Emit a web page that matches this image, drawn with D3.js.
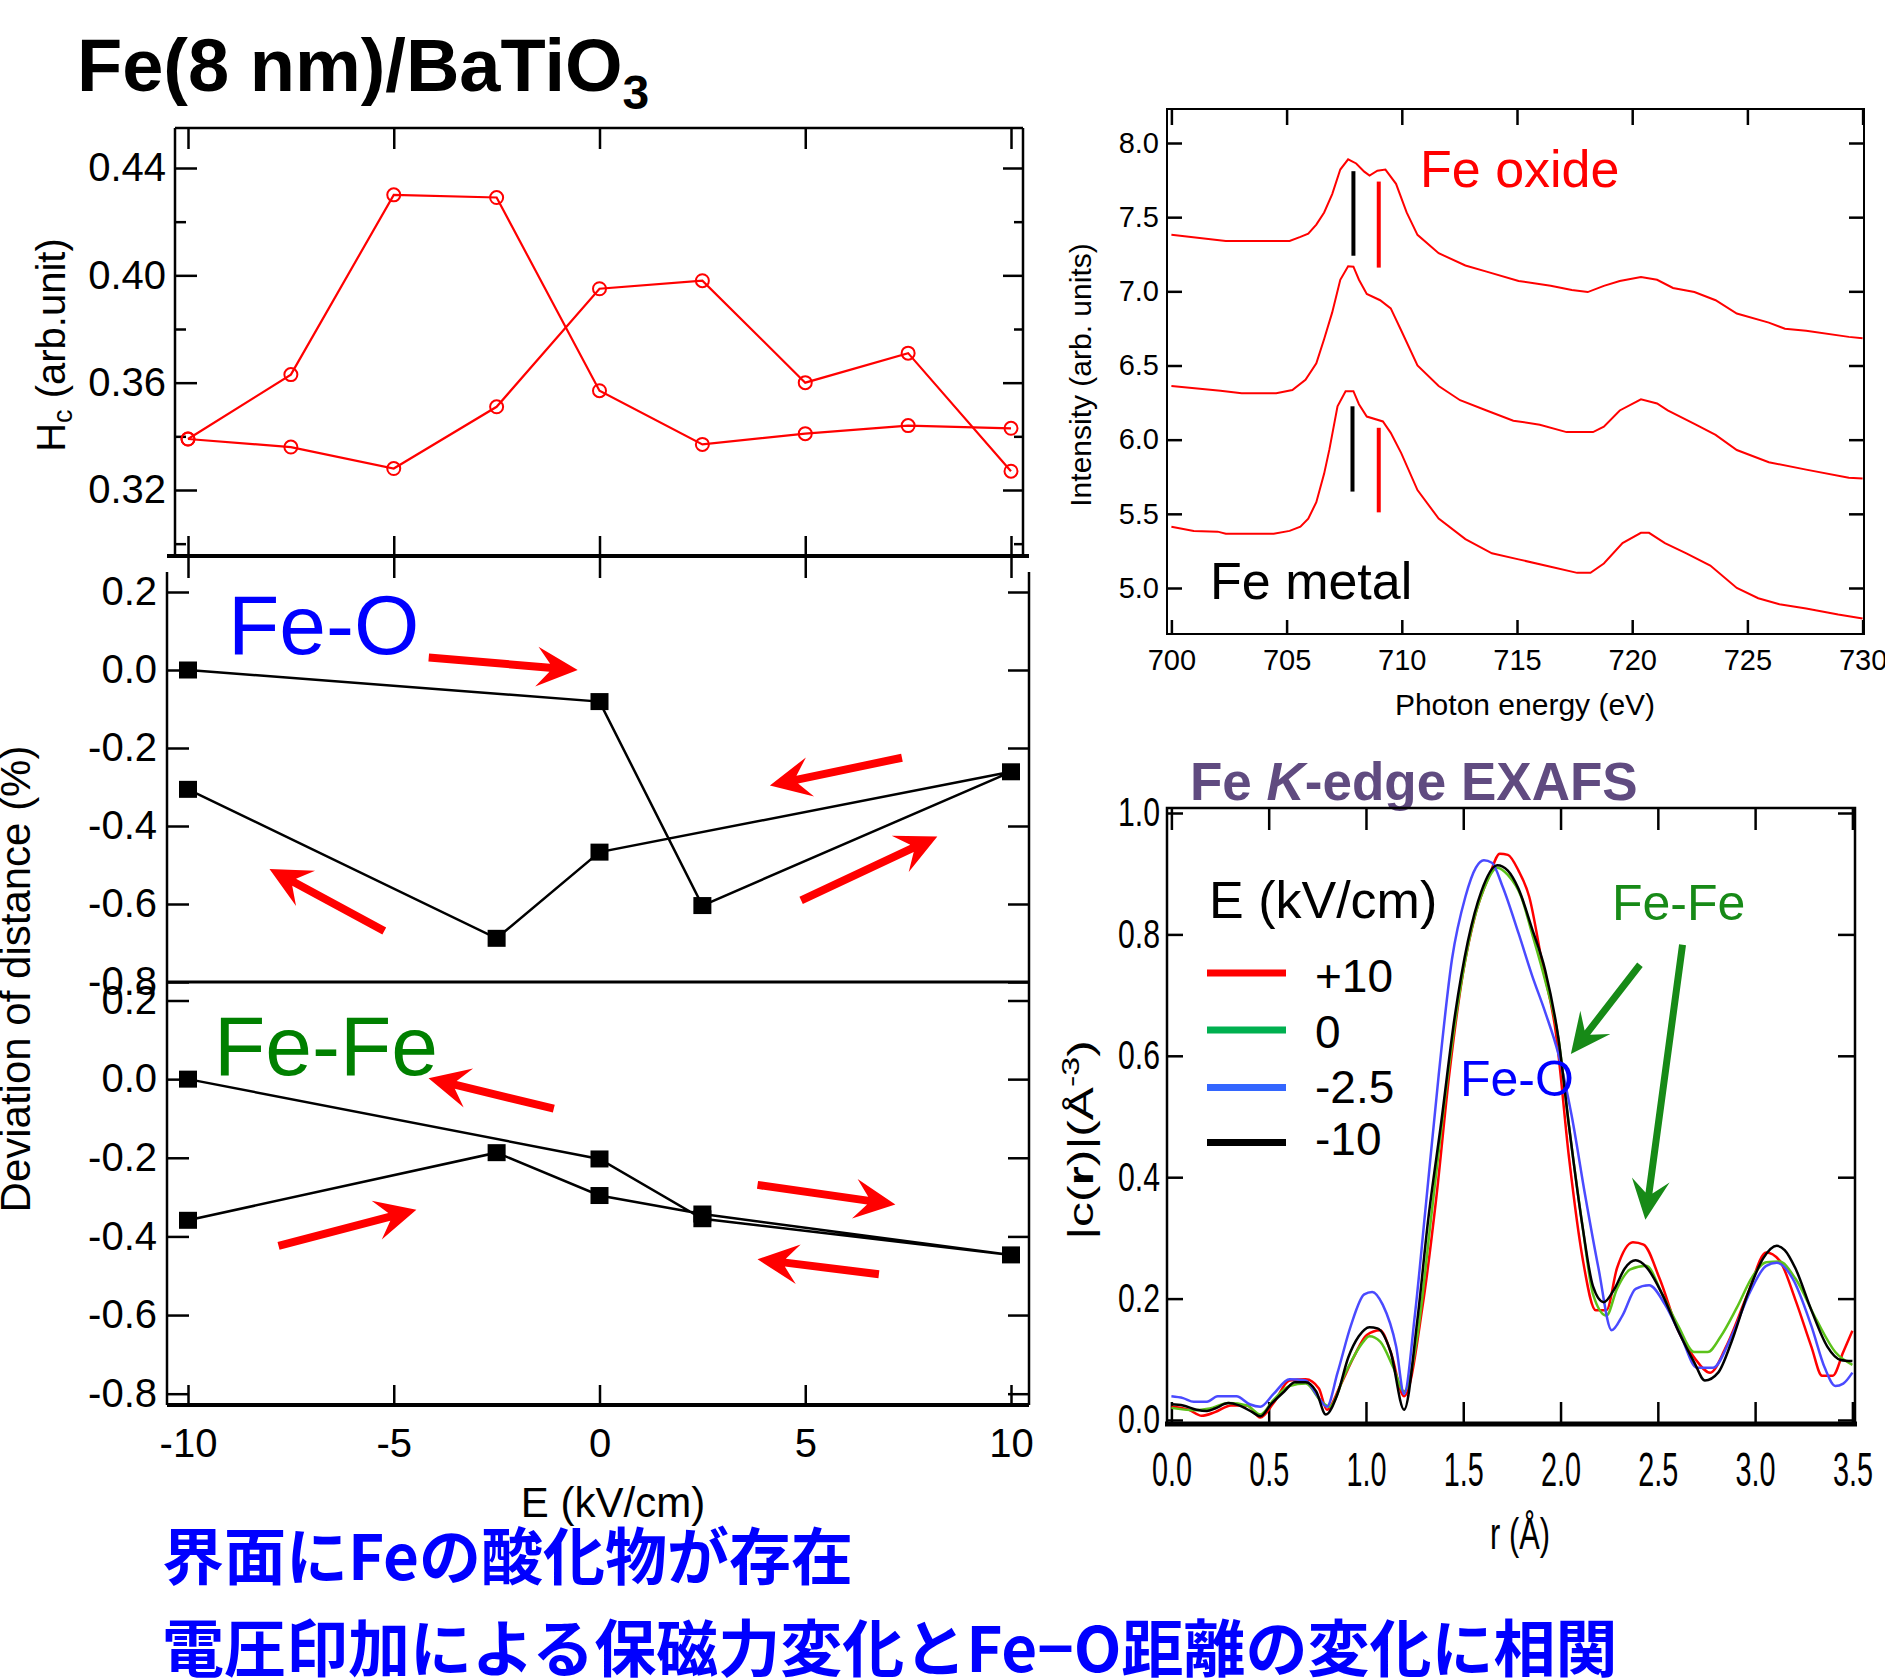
<!DOCTYPE html>
<html>
<head>
<meta charset="utf-8">
<script src="https://cdn.jsdelivr.net/npm/d3@7"></script>
<style>
  body { margin: 0; background: #fff; }
  svg { display: block; }
</style>
</head>
<body>
<div id="main-chart"></div>
<script>
const width = 1885, height = 1680;
const FONT = "'Liberation Sans', Arial, Helvetica, sans-serif";

// ---- data ----
// coercive field vs E (two branches of the loop)
const eField = [-10, -7.5, -5, -2.5, 0, 2.5, 5, 7.5, 10];
const hcBranchA = [0.339, 0.363, 0.430, 0.429, 0.357, 0.337, 0.341, 0.344, 0.343];
const hcBranchB = [0.339, 0.336, 0.328, 0.351, 0.395, 0.398, 0.360, 0.371, 0.327];

// deviation of bond distance (%), in loop order
const feOE = [-10, 0, 2.5, 10, 0, -2.5, -10];
const feODev = [0.0, -0.081, -0.604, -0.261, -0.467, -0.688, -0.306];
const feFeE = [-10, 0, 2.5, 10, 2.5, 0, -2.5, -10];
const feFeDev = [0.0, -0.203, -0.355, -0.447, -0.343, -0.296, -0.187, -0.359];

// red arrows [E tail, dev tail, E tip, dev tip]
const feOArrows = [[-4.15, 0.032, -0.53, 0.0], [7.35, -0.225, 4.14, -0.296],
                   [-5.23, -0.669, -8.02, -0.51], [4.90, -0.591, 8.21, -0.427]];
const feFeArrows = [[-1.11, -0.075, -4.155, 0.002], [-7.80, -0.424, -4.45, -0.332],
                    [3.84, -0.269, 7.19, -0.319], [6.79, -0.496, 3.84, -0.458]];

const devTicks = [-0.8, -0.6, -0.4, -0.2, 0, 0.2];
const eTicks = [-10, -5, 0, 5, 10];

// XAS spectra [photon energy, intensity]
const xasOxide = [[700,7.381],[702.36,7.339],[705.13,7.339],[705.6,7.367],[705.94,7.389],[706.29,7.45],
  [706.63,7.532],[706.98,7.656],[707.33,7.821],[707.67,7.89],[708.02,7.862],[708.37,7.807],[708.6,7.78],
  [708.94,7.813],[709.29,7.821],[709.75,7.725],[710.21,7.532],[710.68,7.381],[711.6,7.257],[712.76,7.174],
  [713.68,7.133],[715.07,7.07],[716.46,7.037],[717.38,7.009],[718.07,6.995],[718.77,7.037],[719.46,7.07],
  [720.38,7.097],[721.08,7.078],[721.77,7.023],[722.7,6.995],[723.62,6.94],[724.54,6.85],[725.93,6.789],
  [726.63,6.748],[727.55,6.734],[729.4,6.693],[730,6.684]];
const xasMiddle = [[700,6.362],[702.13,6.329],[703.05,6.313],[704.55,6.313],[705.25,6.335],[705.82,6.404],
  [706.29,6.514],[706.63,6.679],[706.98,6.858],[707.33,7.078],[707.67,7.169],[707.9,7.166],[708.14,7.078],
  [708.48,6.982],[709.06,6.94],[709.52,6.885],[709.98,6.734],[710.68,6.5],[711.6,6.362],[712.53,6.266],
  [713.68,6.197],[714.84,6.128],[715.99,6.101],[717.15,6.051],[718.3,6.051],[718.77,6.087],[719.46,6.197],
  [720.38,6.272],[721.08,6.244],[721.54,6.197],[722.7,6.106],[723.62,6.032],[724.54,5.93],[725.93,5.848],
  [727.55,5.798],[729.4,5.743],[730,5.738]];
const xasMetal = [[700,5.413],[700.97,5.385],[702.01,5.38],[702.36,5.366],[704.44,5.366],[705.13,5.385],
  [705.6,5.413],[705.94,5.468],[706.29,5.578],[706.63,5.771],[706.86,5.936],[707.21,6.225],[707.56,6.327],
  [707.9,6.327],[708.14,6.239],[708.48,6.156],[709.18,6.123],[709.52,6.046],[709.98,5.908],[710.68,5.66],
  [711.6,5.468],[712.76,5.33],[713.91,5.234],[715.07,5.193],[716.46,5.143],[717.61,5.102],[718.19,5.102],
  [718.77,5.165],[719.58,5.303],[720.38,5.372],[720.73,5.372],[721.42,5.303],[722.35,5.234],[723.39,5.151],
  [724.54,5.0],[725.47,4.931],[726.39,4.89],[727.55,4.862],[728.94,4.821],[730,4.794]];
// vertical peak markers [energy, from, to, colour]
const xasMarks = [[707.9, 7.24, 7.81, "#000"], [709.0, 7.16, 7.74, "#ff0000"],
                  [707.86, 5.65, 6.225, "#000"], [709.0, 5.51, 6.08, "#ff0000"]];

// EXAFS |chi(r)| [r, value]
const exafsP10 = [[0,0.022],[0.088,0.017],[0.156,0.007],[0.224,0.013],[0.306,0.024],[0.389,0.024],[0.457,0.004],
  [0.525,0.028],[0.607,0.065],[0.69,0.067],[0.758,0.052],[0.799,0.017],[0.867,0.056],[0.936,0.103],[1.004,0.14],
  [1.073,0.148],[1.127,0.112],[1.196,0.039],[1.292,0.19],[1.36,0.362],[1.428,0.569],[1.497,0.733],[1.565,0.836],
  [1.634,0.897],[1.688,0.933],[1.729,0.931],[1.784,0.905],[1.839,0.862],[1.907,0.75],[1.976,0.638],[2.044,0.431],
  [2.113,0.267],[2.181,0.181],[2.236,0.181],[2.29,0.25],[2.372,0.293],[2.427,0.289],[2.509,0.233],[2.605,0.147],
  [2.687,0.103],[2.769,0.078],[2.851,0.121],[2.961,0.207],[3.057,0.276],[3.125,0.263],[3.207,0.198],[3.289,0.121],
  [3.344,0.073],[3.399,0.073],[3.453,0.112],[3.5,0.147]];
const exafs0 = [[0,0.02],[0.115,0.016],[0.197,0.019],[0.293,0.028],[0.389,0.024],[0.457,0.009],[0.525,0.033],
  [0.607,0.056],[0.69,0.06],[0.772,0.03],[0.813,0.022],[0.895,0.078],[0.977,0.125],[1.018,0.138],[1.073,0.129],
  [1.141,0.086],[1.196,0.047],[1.264,0.138],[1.333,0.328],[1.401,0.517],[1.47,0.681],[1.538,0.802],[1.606,0.875],
  [1.675,0.91],[1.729,0.898],[1.798,0.862],[1.853,0.802],[1.921,0.724],[1.989,0.629],[2.044,0.483],[2.113,0.319],
  [2.167,0.207],[2.236,0.172],[2.29,0.216],[2.359,0.248],[2.441,0.254],[2.523,0.207],[2.605,0.155],[2.687,0.112],
  [2.756,0.112],[2.824,0.138],[2.906,0.185],[2.988,0.237],[3.057,0.26],[3.125,0.261],[3.207,0.233],[3.317,0.164],
  [3.412,0.112],[3.5,0.091]];
const exafsM2p5 = [[0,0.039],[0.06,0.036],[0.115,0.03],[0.183,0.03],[0.238,0.039],[0.334,0.039],[0.402,0.026],
  [0.457,0.022],[0.525,0.043],[0.607,0.067],[0.69,0.065],[0.744,0.043],[0.799,0.022],[0.854,0.078],[0.922,0.155],
  [0.991,0.207],[1.032,0.211],[1.086,0.19],[1.155,0.121],[1.196,0.043],[1.251,0.172],[1.305,0.345],[1.374,0.569],
  [1.442,0.759],[1.511,0.862],[1.565,0.91],[1.606,0.922],[1.647,0.918],[1.702,0.879],[1.784,0.802],[1.853,0.733],
  [1.921,0.672],[1.989,0.603],[2.058,0.5],[2.126,0.371],[2.195,0.25],[2.263,0.148],[2.318,0.172],[2.386,0.216],
  [2.455,0.222],[2.537,0.19],[2.619,0.138],[2.701,0.086],[2.783,0.086],[2.879,0.138],[2.974,0.211],[3.057,0.254],
  [3.111,0.259],[3.193,0.233],[3.289,0.155],[3.358,0.086],[3.412,0.056],[3.453,0.06],[3.5,0.078]];
const exafsM10 = [[0,0.026],[0.06,0.024],[0.129,0.017],[0.183,0.015],[0.224,0.019],[0.293,0.028],[0.348,0.024],
  [0.416,0.013],[0.457,0.006],[0.512,0.026],[0.58,0.047],[0.635,0.062],[0.69,0.062],[0.744,0.047],[0.794,0.009],
  [0.854,0.043],[0.909,0.103],[0.963,0.138],[1.018,0.153],[1.059,0.151],[1.127,0.112],[1.196,0.017],[1.264,0.164],
  [1.319,0.328],[1.387,0.491],[1.456,0.664],[1.524,0.789],[1.593,0.871],[1.675,0.914],[1.729,0.905],[1.784,0.875],
  [1.853,0.81],[1.921,0.741],[1.989,0.629],[2.044,0.483],[2.113,0.319],[2.167,0.22],[2.222,0.194],[2.277,0.216],
  [2.331,0.25],[2.386,0.263],[2.441,0.252],[2.523,0.207],[2.605,0.147],[2.687,0.095],[2.742,0.065],[2.81,0.078],
  [2.879,0.129],[2.961,0.207],[3.043,0.267],[3.111,0.287],[3.152,0.28],[3.207,0.25],[3.289,0.181],[3.371,0.121],
  [3.44,0.099],[3.5,0.097]];
const exafsLabels = ["+10", "0", "-2.5", "-10"];
const exafsSeries = [exafsP10, exafs0, exafsM2p5, exafsM10];
const exafsColors = ["#ff0000", "#5cc21a", "#4a4aff", "#000000"];
const legendColors = ["#ff0000", "#00b050", "#3366ff", "#000000"];
// green arrows [r tail, val tail, r tip, val tip]
const exafsArrows = [[2.408, 0.750, 2.053, 0.603], [2.627, 0.783, 2.436, 0.330]];

// ---- svg ----
const svg = d3.select("#main-chart").append("svg")
    .attr("width", width).attr("height", height)
    .style("font-family", FONT);

const hyphen = f => d => f(d).replace("\u2212", "-");

function styleAxis(g, size) {
    g.attr("font-family", FONT).attr("font-size", size);
    g.select(".domain").remove();
    g.selectAll(".tick line").attr("stroke", "#000").attr("stroke-width", 2.5);
    g.selectAll(".tick text").attr("fill", "#000");
    return g;
}

function hline(x0, x1, y, w) {
    svg.append("line").attr("x1", x0).attr("x2", x1).attr("y1", y).attr("y2", y)
        .attr("stroke", "#000").attr("stroke-width", w);
}
function vline(x, y0, y1, w) {
    svg.append("line").attr("x1", x).attr("x2", x).attr("y1", y0).attr("y2", y1)
        .attr("stroke", "#000").attr("stroke-width", w);
}

// notched block arrow from (x0,y0) to tip (x1,y1)
function arrow(x0, y0, x1, y1, color, w, L, H, N) {
    const dx = x1 - x0, dy = y1 - y0, len = Math.hypot(dx, dy);
    const ux = dx / len, uy = dy / len, nx = -uy, ny = ux;
    const p = (a, b) => [x1 - a * ux + b * nx, y1 - a * uy + b * ny];
    const pts = [[x1, y1], p(L, H), p(N, w / 2), [x0 + nx * w / 2, y0 + ny * w / 2],
                 [x0 - nx * w / 2, y0 - ny * w / 2], p(N, -w / 2), p(L, -H)];
    svg.append("polygon").attr("points", pts.map(q => q.join(",")).join(" ")).attr("fill", color);
}

// ---- title ----
const title = svg.append("text").attr("x", 77).attr("y", 91)
    .attr("font-size", 74).attr("font-weight", "bold");
title.append("tspan").text("Fe(8 nm)/BaTiO");
title.append("tspan").attr("font-size", 48).attr("dy", 18).text("3");

// ---- left column: shared E scale ----
const xE = d3.scaleLinear().domain([-10, 10]).range([188, 1011]);

// Hc panel
const yHc = d3.scaleLinear().domain([0.32, 0.44]).range([490, 168]);
hline(175, 1023, 128, 2.5);
vline(175, 128, 556, 2.5);
vline(1023, 128, 556, 2.5);
styleAxis(svg.append("g").attr("transform", "translate(175,0)")
    .call(d3.axisLeft(yHc).tickValues([0.32, 0.36, 0.40, 0.44]).tickFormat(d3.format(".2f"))
        .tickSizeInner(-22).tickSizeOuter(0).tickPadding(9)), 40);
styleAxis(svg.append("g").attr("transform", "translate(175,0)")
    .call(d3.axisLeft(yHc).tickValues([0.30, 0.34, 0.38, 0.42]).tickFormat("")
        .tickSizeInner(-11).tickSizeOuter(0)), 10);
styleAxis(svg.append("g").attr("transform", "translate(1023,0)")
    .call(d3.axisRight(yHc).tickValues([0.32, 0.36, 0.40, 0.44]).tickFormat("")
        .tickSizeInner(-20).tickSizeOuter(0)), 10);
styleAxis(svg.append("g").attr("transform", "translate(1023,0)")
    .call(d3.axisRight(yHc).tickValues([0.30, 0.34, 0.38, 0.42]).tickFormat("")
        .tickSizeInner(-9).tickSizeOuter(0)), 10);
styleAxis(svg.append("g").attr("transform", "translate(0,128)")
    .call(d3.axisTop(xE).tickValues(eTicks).tickFormat("").tickSizeInner(-21).tickSizeOuter(0)), 10);
styleAxis(svg.append("g").attr("transform", "translate(0,556)")
    .call(d3.axisBottom(xE).tickValues(eTicks).tickFormat("").tickSizeInner(-20).tickSizeOuter(0)), 10);
styleAxis(svg.append("g").attr("transform", "translate(0,556)")
    .call(d3.axisBottom(xE).tickValues(eTicks).tickFormat("").tickSizeInner(22).tickSizeOuter(0)), 10);
hline(167, 1029, 556, 4);

const hcLine = d3.line().x((d, i) => xE(eField[i])).y(d => yHc(d));
[hcBranchA, hcBranchB].forEach(br => {
    svg.append("path").attr("d", hcLine(br)).attr("fill", "none")
        .attr("stroke", "#ff0000").attr("stroke-width", 2.2);
    svg.append("g").selectAll("circle").data(br).join("circle")
        .attr("cx", (d, i) => xE(eField[i])).attr("cy", d => yHc(d)).attr("r", 6.5)
        .attr("fill", "none").attr("stroke", "#ff0000").attr("stroke-width", 2);
});

const hcLabel = svg.append("text").attr("transform", "translate(65,345) rotate(-90)")
    .attr("text-anchor", "middle").attr("font-size", 40);
hcLabel.append("tspan").text("H");
hcLabel.append("tspan").attr("font-size", 27).attr("dy", 7).text("c");
hcLabel.append("tspan").attr("dy", -7).text(" (arb.unit)");

// deviation panels
function devPanel(top, bottom, yRange, E, dev, arrows, label, labelColor, labelX, labelY) {
    const y = d3.scaleLinear().domain([-0.8, 0.2]).range(yRange);
    vline(167, top, bottom, 2.5);
    vline(1029, top, bottom, 2.5);
    styleAxis(svg.append("g").attr("transform", "translate(167,0)")
        .call(d3.axisLeft(y).tickValues(devTicks).tickFormat(hyphen(d3.format(".1f")))
            .tickSizeInner(-22).tickSizeOuter(0).tickPadding(10)), 40);
    styleAxis(svg.append("g").attr("transform", "translate(1029,0)")
        .call(d3.axisRight(y).tickValues(devTicks).tickFormat("")
            .tickSizeInner(-21).tickSizeOuter(0)), 10);
    svg.append("text").attr("x", labelX).attr("y", labelY).attr("font-size", 84)
        .attr("fill", labelColor).text(label);
    svg.append("path")
        .attr("d", d3.line().x((d, i) => xE(E[i])).y(d => y(d))(dev))
        .attr("fill", "none").attr("stroke", "#000").attr("stroke-width", 2.5);
    svg.append("g").selectAll("rect").data(dev).join("rect")
        .attr("x", (d, i) => xE(E[i]) - 9).attr("y", d => y(d) - 8.5)
        .attr("width", 18).attr("height", 17).attr("fill", "#000");
    arrows.forEach(a => arrow(xE(a[0]), y(a[1]), xE(a[2]), y(a[3]), "#ff0000", 8, 41, 20, 28));
    return y;
}
devPanel(572, 982, [982, 592], feOE, feODev, feOArrows, "Fe-O", "#0000ff", 228, 654);
hline(167, 1029, 982, 3);
devPanel(982, 1405, [1393.7, 1000.5], feFeE, feFeDev, feFeArrows, "Fe-Fe", "#008000", 214, 1075);
styleAxis(svg.append("g").attr("transform", "translate(0,1405)")
    .call(d3.axisBottom(xE).tickValues(eTicks).tickFormat(hyphen(d3.format("d")))
        .tickSizeInner(-20).tickSizeOuter(0).tickPadding(24)), 40);
hline(167, 1029, 1405, 4);

svg.append("text").attr("x", 613).attr("y", 1517).attr("text-anchor", "middle")
    .attr("font-size", 42).text("E (kV/cm)");
svg.append("text").attr("transform", "translate(30,979) rotate(-90)")
    .attr("text-anchor", "middle").attr("font-size", 42).text("Deviation of distance (%)");

// ---- XAS panel ----
const xX = d3.scaleLinear().domain([700, 730]).range([1171.4, 1862.6]);
const yX = d3.scaleLinear().domain([5.0, 8.0]).range([588, 143]);
svg.append("rect").attr("x", 1167).attr("y", 109).attr("width", 697).attr("height", 525)
    .attr("fill", "none").attr("stroke", "#000").attr("stroke-width", 2);
const xasYTicks = [5.0, 5.5, 6.0, 6.5, 7.0, 7.5, 8.0];
const xasXTicks = [700, 705, 710, 715, 720, 725, 730];
styleAxis(svg.append("g").attr("transform", "translate(1167,0)")
    .call(d3.axisLeft(yX).tickValues(xasYTicks).tickFormat(d3.format(".1f"))
        .tickSizeInner(-15).tickSizeOuter(0).tickPadding(8)), 29);
styleAxis(svg.append("g").attr("transform", "translate(1864,0)")
    .call(d3.axisRight(yX).tickValues(xasYTicks).tickFormat("").tickSizeInner(-15).tickSizeOuter(0)), 10);
styleAxis(svg.append("g").attr("transform", "translate(0,109)")
    .call(d3.axisTop(xX).tickValues(xasXTicks).tickFormat("").tickSizeInner(-16).tickSizeOuter(0)), 10);
styleAxis(svg.append("g").attr("transform", "translate(0,634)")
    .call(d3.axisBottom(xX).tickValues(xasXTicks).tickFormat(d3.format("d"))
        .tickSizeInner(-14).tickSizeOuter(0).tickPadding(15)), 29);

const xasLine = d3.line().x(d => xX(d[0])).y(d => yX(d[1]));
[xasOxide, xasMiddle, xasMetal].forEach(s => {
    svg.append("path").attr("d", xasLine(s)).attr("fill", "none")
        .attr("stroke", "#ff0000").attr("stroke-width", 2);
});
xasMarks.forEach(m => {
    svg.append("line").attr("x1", xX(m[0])).attr("x2", xX(m[0]))
        .attr("y1", yX(m[1])).attr("y2", yX(m[2]))
        .attr("stroke", m[3]).attr("stroke-width", 4);
});
svg.append("text").attr("x", 1420).attr("y", 187).attr("font-size", 52)
    .attr("fill", "#ff0000").text("Fe oxide");
svg.append("text").attr("x", 1210).attr("y", 599).attr("font-size", 52).text("Fe metal");
svg.append("text").attr("x", 1525).attr("y", 715).attr("text-anchor", "middle")
    .attr("font-size", 30).text("Photon energy (eV)");
svg.append("text").attr("transform", "translate(1091,375) rotate(-90)")
    .attr("text-anchor", "middle").attr("font-size", 30).text("Intensity (arb. units)");

// ---- EXAFS panel ----
const xR = d3.scaleLinear().domain([0, 3.5]).range([1171.4, 1852.4]);
const yR = d3.scaleLinear().domain([0, 1]).range([1420, 813]);
const rTicks = [0, 0.5, 1.0, 1.5, 2.0, 2.5, 3.0, 3.5];
const cTicks = [0, 0.2, 0.4, 0.6, 0.8, 1.0];

const exTitle = svg.append("text").attr("x", 1190).attr("y", 800).attr("font-size", 53)
    .attr("font-weight", "bold").attr("fill", "#604b80");
exTitle.append("tspan").text("Fe ");
exTitle.append("tspan").attr("font-style", "italic").text("K");
exTitle.append("tspan").text("-edge EXAFS");

svg.append("rect").attr("x", 1167).attr("y", 808).attr("width", 688).attr("height", 616)
    .attr("fill", "none").attr("stroke", "#000").attr("stroke-width", 2.5);
styleAxis(svg.append("g").attr("transform", "translate(1167,0)")
    .call(d3.axisLeft(yR).tickValues(cTicks).tickFormat(d3.format(".1f"))
        .tickSizeInner(-16).tickSizeOuter(0)), 40)
    .selectAll(".tick text").attr("x", -9.3).attr("transform", "scale(0.755,1)");
styleAxis(svg.append("g").attr("transform", "translate(1855,0)")
    .call(d3.axisRight(yR).tickValues(cTicks).tickFormat("").tickSizeInner(-17).tickSizeOuter(0)), 10);
styleAxis(svg.append("g").attr("transform", "translate(0,808)")
    .call(d3.axisTop(xR).tickValues(rTicks).tickFormat("").tickSizeInner(-22).tickSizeOuter(0)), 10);
styleAxis(svg.append("g").attr("transform", "translate(0,1424)")
    .call(d3.axisBottom(xR).tickValues(rTicks).tickFormat(d3.format(".1f"))
        .tickSizeInner(-22).tickSizeOuter(0).tickPadding(28)), 48)
    .selectAll(".tick text").attr("transform", "scale(0.6,1)");
hline(1165, 1857, 1424, 5);

const exLine = d3.line().x(d => xR(d[0])).y(d => yR(d[1])).curve(d3.curveMonotoneX);
exafsSeries.forEach((s, i) => {
    svg.append("path").attr("d", exLine(s)).attr("fill", "none")
        .attr("stroke", exafsColors[i]).attr("stroke-width", 2.5);
});

// legend
svg.append("text").attr("x", 1209).attr("y", 918).attr("font-size", 52).text("E (kV/cm)");
const legY = [973, 1030, 1087.5, 1142.5];
const legBase = [992, 1048, 1103, 1155];
exafsLabels.forEach((lab, i) => {
    svg.append("line").attr("x1", 1207).attr("x2", 1286).attr("y1", legY[i]).attr("y2", legY[i])
        .attr("stroke", legendColors[i]).attr("stroke-width", 7);
    svg.append("text").attr("x", 1315).attr("y", legBase[i]).attr("font-size", 46).text(lab);
});

svg.append("text").attr("x", 1612).attr("y", 920).attr("font-size", 50)
    .attr("fill", "#178a17").text("Fe-Fe");
svg.append("text").attr("x", 1460).attr("y", 1096).attr("font-size", 50)
    .attr("fill", "#0000ff").text("Fe-O");
exafsArrows.forEach(a => arrow(xR(a[0]), yR(a[1]), xR(a[2]), yR(a[3]), "#178a17", 7, 40, 19, 27));

svg.append("text").attr("transform", "translate(1520,1549) scale(0.7,1)")
    .attr("text-anchor", "middle").attr("font-size", 44).text("r (\u00c5)");
const chiLab = svg.append("text").attr("transform", "translate(1093,1140) rotate(-90) scale(1.42,1)")
    .attr("text-anchor", "middle").attr("font-size", 35);
chiLab.append("tspan").text("|c(");
chiLab.append("tspan").attr("font-weight", "bold").text("r");
chiLab.append("tspan").text(")|(\u00c5");
chiLab.append("tspan").attr("font-size", 24).attr("dy", -14).text("-3");
chiLab.append("tspan").attr("dy", 14).text(")");

// ---- Japanese notes ----
const jp = svg.append("g").attr("font-family", "'Noto Sans CJK JP', sans-serif")
    .attr("font-weight", "bold").attr("font-size", 62).attr("fill", "#0000ff");
jp.append("text").attr("x", 162).attr("y", 1580).text("界面にFeの酸化物が存在");
jp.append("text").attr("x", 162).attr("y", 1672).text("電圧印加による保磁力変化とFe\u2212O距離の変化に相関");
</script>
</body>
</html>
